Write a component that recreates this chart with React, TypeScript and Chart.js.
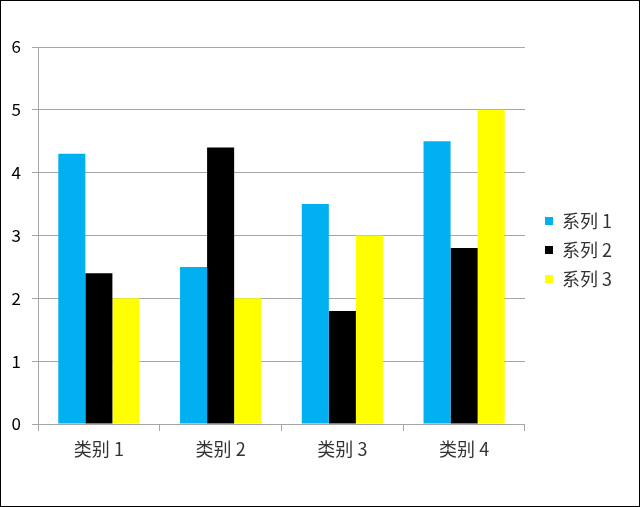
import React, { useEffect, useRef } from "react";
import { Chart, registerables } from "chart.js";

Chart.register(...registerables);

const categories = ["类别 1", "类别 2", "类别 3", "类别 4"];
const seriesNames = ["系列 1", "系列 2", "系列 3"];
const series1 = [4.3, 2.5, 3.5, 4.5];
const series2 = [2.4, 4.4, 1.8, 2.8];
const series3 = [2.0, 2.0, 3.0, 5.0];
const seriesColors = ["#00B0F0", "#000000", "#FFFF00"];
const yMin = 0;
const yMax = 6;
const yStep = 1;

const FONT = "'Noto Sans CJK SC', 'Noto Sans', sans-serif";
const GRID = "#a6a6a6";

export default function App() {
  const ref = useRef<HTMLCanvasElement>(null);
  useEffect(() => {
    document.body.style.margin = "0";
    const chart = new Chart(ref.current!, {
      type: "bar",
      data: {
        labels: categories,
        datasets: [series1, series2, series3].map((d, i) => ({
          label: seriesNames[i],
          data: d,
          backgroundColor: seriesColors[i],
          borderWidth: 0,
          categoryPercentage: 2 / 3,
          barPercentage: 1,
        })),
      },
      options: {
        responsive: false,
        animation: false,
        devicePixelRatio: 1,
        layout: { padding: { top: 38, left: 0, right: 17, bottom: 45 } },
        plugins: {
          tooltip: { enabled: false },
          legend: {
            position: "right",
            labels: {
              boxWidth: 8,
              boxHeight: 8,
              padding: 11,
              color: "#333",
              font: { family: FONT, size: 18 },
            },
          },
        },
        scales: {
          x: {
            grid: { drawOnChartArea: false, tickLength: 7, color: GRID },
            border: { color: GRID },
            ticks: { color: "#333", padding: 7, font: { family: FONT, size: 18 } },
            afterFit: (s: any) => {
              s.height = 37;
            },
          },
          topSpacer: {
            type: "category",
            position: "top",
            grid: { display: false },
            border: { display: false },
            ticks: { display: false },
            afterFit: (s: any) => {
              s.height = 8;
            },
          },
          y: {
            min: yMin,
            max: yMax,
            grid: { tickLength: 6, color: GRID },
            border: { color: GRID },
            ticks: { stepSize: yStep, color: "#000", padding: 11, font: { family: FONT, size: 17 } },
            afterFit: (s: any) => {
              s.width = 37;
            },
          },
          spacer: {
            position: "right",
            min: yMin,
            max: yMax,
            grid: { display: false },
            border: { display: false },
            ticks: { display: false },
            afterFit: (s: any) => {
              s.width = 9;
            },
          },
        },
      },
    });
    return () => chart.destroy();
  }, []);
  return (
    <div
      style={{
        position: "absolute",
        left: 0,
        top: 0,
        width: 640,
        height: 507,
        boxSizing: "border-box",
        border: "1px solid #000",
        background: "#fff",
      }}
    >
      <canvas ref={ref} width={638} height={505} style={{ display: "block" }} />
    </div>
  );
}
